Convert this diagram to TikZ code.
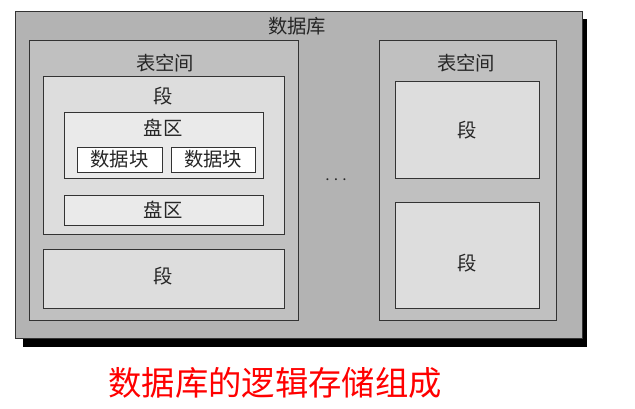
\documentclass[tikz,border=0pt]{standalone}
\usepackage{fontspec}
\setmainfont{Noto Sans CJK SC}
\definecolor{dbgray}{RGB}{179,179,179}
\definecolor{tsgray}{RGB}{192,192,192}
\definecolor{seggray}{RGB}{221,221,221}
\definecolor{extgray}{RGB}{234,234,234}
\tikzset{
  frame/.style={draw=black!80, line width=0.75pt},
  label/.style={font=\fontsize{14.5pt}{16pt}\selectfont, text=black!85, inner sep=0pt},
}
\begin{document}
\begin{tikzpicture}[x=0.75pt,y=0.75pt,yscale=-1]
\useasboundingbox (0,0) rectangle (635,408);

%Shape: database with shadow
\fill [black] (23,19) rectangle (587,347);
\draw [frame, fill=dbgray] (15,11) rectangle (582,338);

%Shape: left tablespace
\draw [frame, fill=tsgray] (29,40) rectangle (298,320);
%Shape: segments
\draw [frame, fill=seggray] (43,76) rectangle (284,234);
\draw [frame, fill=seggray] (43,249) rectangle (284,308);
%Shape: extents
\draw [frame, fill=extgray] (64,112) rectangle (263,178);
\draw [frame, fill=extgray] (64,195) rectangle (263,225);
%Shape: data blocks
\draw [frame, fill=white] (77,147) rectangle (162,172);
\draw [frame, fill=white] (171,147) rectangle (255,172);

%Shape: right tablespace
\draw [frame, fill=tsgray] (379,40) rectangle (556,320);
\draw [frame, fill=seggray] (395,81) rectangle (539,178);
\draw [frame, fill=seggray] (395,202) rectangle (539,308);

% Text Node
\node [label] (dbname) at (297,26) {数据库};
% Text Node
\node [label] (tsleft) at (165,63) {表空间};
\node [label] (tsright) at (466,63) {表空间};
% Text Node
\node [label] (segone) at (163,96) {段};
\node [label] (segtwo) at (163,276) {段};
\node [label] (segthree) at (467,130) {段};
\node [label] (segfour) at (467,263) {段};
% Text Node
\node [label] (extone) at (163,128) {盘区};
\node [label] (exttwo) at (163,210) {盘区};
% Text Node
\node [label] (blkone) at (119.5,159.5) {数据块};
\node [label] (blktwo) at (213,159.5) {数据块};
% Text Node
\node [label] (dots) at (336,180) {$\cdots$};
% Text Node
\node [font=\fontsize{25pt}{28pt}\selectfont, text=red, inner sep=0pt] (caption) at (275,383) {数据库的逻辑存储组成};

\end{tikzpicture}
\end{document}
